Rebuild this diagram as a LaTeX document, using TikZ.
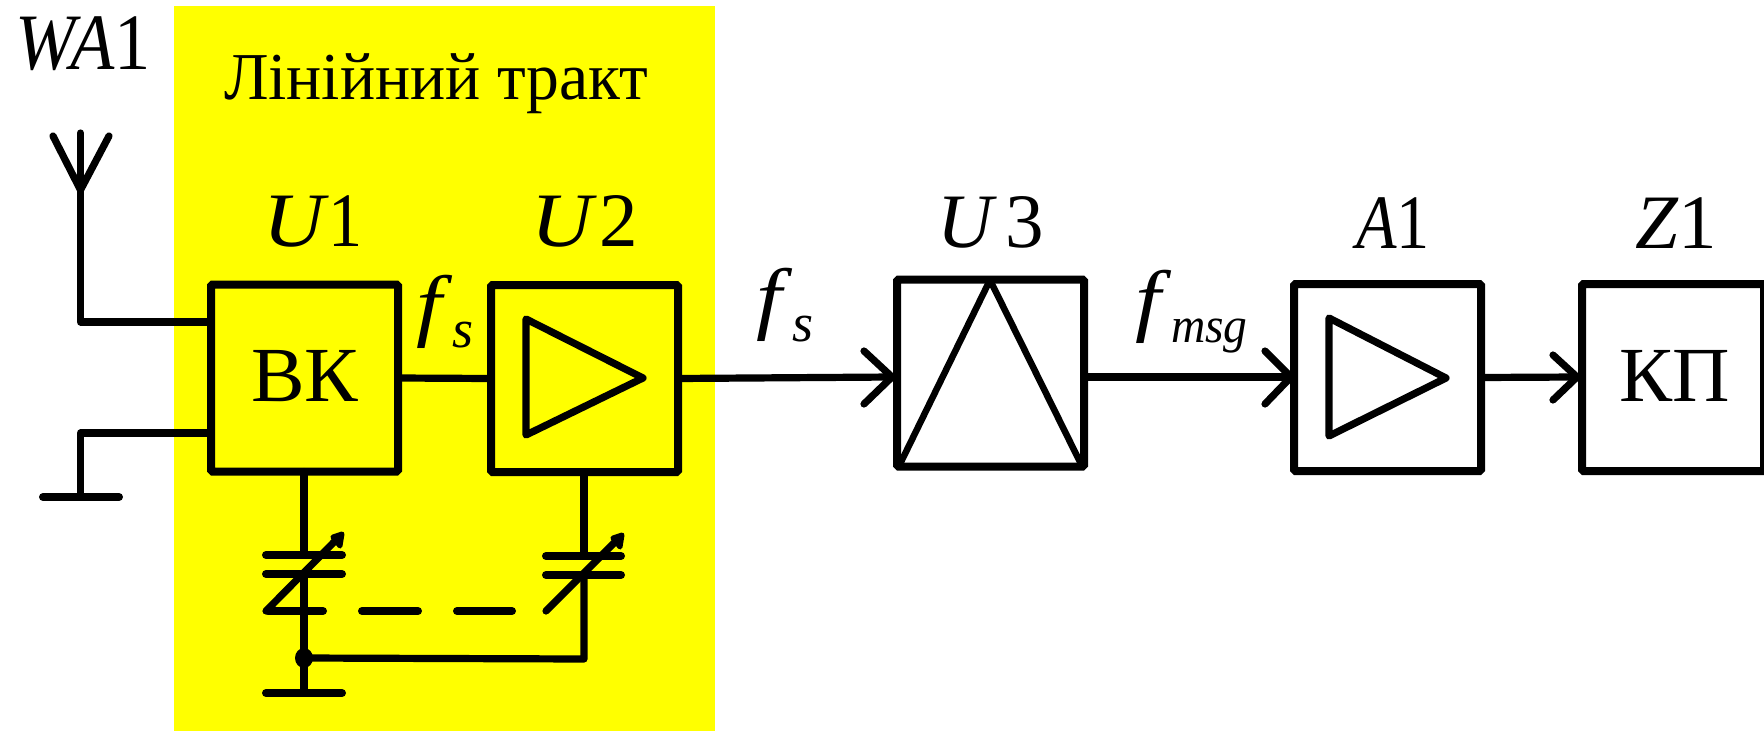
\documentclass[tikz,border=0pt]{standalone}
\usepackage{fontspec}
\usetikzlibrary{shapes.geometric}
\setmainfont{Liberation Serif}
\newcommand{\fsz}[1]{\fontsize{#1}{#1}\selectfont}
\newcommand{\wideF}{\scalebox{1.15}[1]{\textit{f}}}
\definecolor{zoneyellow}{RGB}{255,255,0}
\tikzset{
  wire/.style={line width=7.2pt,line cap=round,line join=round},
  blockbox/.style={draw,line width=8pt,rounded corners=1.5pt,outer sep=0pt,inner sep=0pt,minimum width=187pt,minimum height=187pt},
  lbl/.style={inner sep=0pt,outer sep=0pt,anchor=base west,text=black},
  yellowzone/.style={fill=zoneyellow,draw=none},
  vhead/.style={wire,fill=black,line width=5pt},
}
\begin{document}
\begin{tikzpicture}[x=1pt,y=-1pt]
\useasboundingbox (0,0) rectangle (1764,731);
\fill[white] (0,0) rectangle (1764,731);
\fill[yellowzone] (174,6) rectangle (715,731);
\begin{scope}
\clip (0,0) rectangle (1764,731);
% blocks
\node[blockbox] (u1) at (304.5,378) {};
\node[blockbox] (u2) at (584.5,378.5) {};
\node[blockbox] (u3) at (990.5,373) {};
\node[blockbox] (a1) at (1387.5,377.5) {};
\node[blockbox] (z1) at (1673,377.5) [minimum width=182pt] {};
% labels inside blocks
\node[lbl] (vk) at (251,401) {\fsz{78}\scalebox{1.03}[1]{ВК}};
\node[lbl] (kp) at (1619,401) {\fsz{78}\scalebox{1.02}[1]{КП}};
% triangles
\draw[wire] (526,319) -- (643,378) -- (526,435) -- cycle;
\draw[wire] (1329,318) -- (1446,378) -- (1329,436) -- cycle;
\draw[wire,line width=6.5pt] (901,462) -- (990,280) -- (1080,462);
% antenna
\coordinate (anttip) at (80.5,133);
\coordinate (antj) at (80.5,190);
\coordinate (antl) at (53,136);
\coordinate (antr) at (109,136);
\coordinate (antb) at (80.5,322);
\draw[wire] (antl) -- (antj) -- (antr);
\draw[wire] (anttip) -- (antb) -- (antb -| u1.west);
% ground 1
\coordinate (gnda) at (80.5,433);
\coordinate (gndb) at (80.5,497);
\coordinate (gndl) at (43,497);
\coordinate (gndr) at (119,497);
\draw[wire] (gnda -| u1.west) -- (gnda) -- (gndb);
\draw[wire,line width=8pt] (gndl) -- (gndr);
% between blocks
\draw[wire] (u1.east) -- (u2.west);
\coordinate (tipa) at (892,377);
\coordinate (tipb) at (1291,377);
\coordinate (tipc) at (1577,377);
\draw[wire] (u2.east) -- (tipa);
\draw[wire] (tipa -| u3.east) -- (tipb);
\draw[wire] (a1.east) -- (tipc);
\draw[wire] (tipa) ++(-28,-26) -- (tipa) -- ++(-28,27);
\draw[wire] (tipb) ++(-26,-26) -- (tipb) -- ++(-26,27);
\draw[wire] (tipc) ++(-24,-22) -- (tipc) -- ++(-24,23);
% capacitor 1
\coordinate (c1top) at (304,555);
\coordinate (c1low) at (304,574);
\coordinate (node) at (304,658);
\coordinate (gnd2) at (304,693);
\draw[wire] (u1.south -| c1top) -- (c1top);
\draw[wire] (c1low) -- (gnd2);
\draw[wire,line width=8pt] (266,555) -- (342,555);
\draw[wire,line width=8pt] (266,574) -- (342,574);
\draw[wire,line width=8pt] (266,693) -- (342,693);
\draw[wire] (266,611) -- (338,538);
\draw[vhead] (342,534) -- (333,537) -- (340,546) -- cycle;
% ganged dash line
\draw[wire,line width=8pt] (268,611) -- (323,611);
\draw[wire,line width=8pt] (362,611) -- (418,611);
\draw[wire,line width=8pt] (457,611) -- (512,611);
% capacitor 2
\coordinate (c2top) at (584,556);
\coordinate (c2low) at (584,575);
\coordinate (c2bot) at (584,659);
\draw[wire] (u2.south -| c2top) -- (c2top);
\draw[wire] (c2low) -- (c2bot) -- (node);
\draw[wire,line width=8pt] (546,556) -- (621,556);
\draw[wire,line width=8pt] (546,575) -- (621,575);
\draw[wire] (546,611) -- (618,539);
\draw[vhead] (622,535) -- (613,538) -- (620,547) -- cycle;
\node[ellipse,fill=black,minimum width=18pt,minimum height=20pt,inner sep=0pt,outer sep=0pt] (dot) at (node) {};
\end{scope}
% text labels
\node[lbl] (wa) at (15,69) {\fsz{80}\scalebox{0.905}[1]{\textit{WA}1}};
\node[lbl] (lt) at (224,99) {\fsz{67}\scalebox{0.98}[1]{Лінійний тракт}};
\node[lbl] (lu1) at (263,246) {\fsz{77}\scalebox{1.1}[1]{\textit{U}}\scalebox{0.885}[1]{1}};
\node[lbl] (lu2) at (531,246) {\fsz{77}\scalebox{1.1}[1]{\textit{U}}\kern3pt 2};
\node[lbl] (lu3) at (937,247) {\fsz{77}\textit{U}\kern9pt 3};
\node[lbl] (la1) at (1356,248) {\fsz{77}\scalebox{0.86}[1]{\textit{A}1}};
\node[lbl] (lz1) at (1635,248) {\fsz{77}\textit{Z}1};
\node[lbl] (fs1) at (416,331) {\fsz{80}\wideF\raisebox{-16pt}{\fsz{54}\textit{s}}};
\node[lbl] (fs2) at (756,324) {\fsz{80}\wideF\raisebox{-17pt}{\fsz{54}\textit{s}}};
\node[lbl] (fm) at (1135,326) {\fsz{80}\wideF\raisebox{-16pt}{\fsz{50}\scalebox{0.95}[1]{\textit{msg}}}};
\end{tikzpicture}
\end{document}
